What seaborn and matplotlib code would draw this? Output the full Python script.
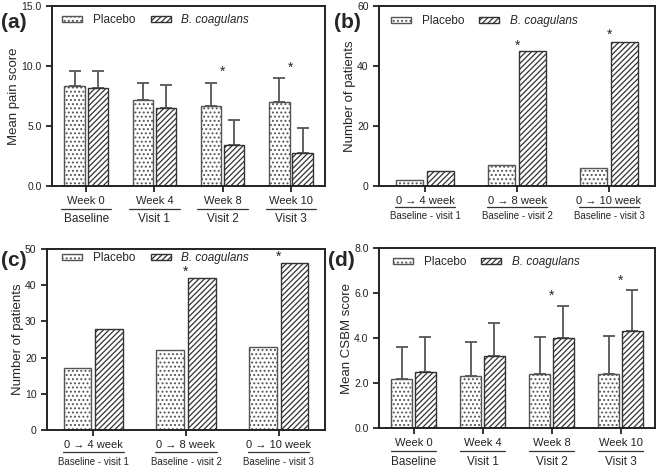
import seaborn as sns
import matplotlib.pyplot as plt
import matplotlib.transforms as mtransforms
from matplotlib.patches import Patch
import pandas as pd

# ---------------------------------------------------------------
# Data
# ---------------------------------------------------------------
treatments = ['Placebo', 'B. coagulans']

# (a) mean pain score, mean + SD
a_top = ['Week 0', 'Week 4', 'Week 8', 'Week 10']
a_bottom = ['Baseline', 'Visit 1', 'Visit 2', 'Visit 3']
a_placebo = [8.3, 7.2, 6.7, 7.0]
a_placebo_sd = [1.25, 1.35, 1.9, 2.0]
a_bc = [8.2, 6.5, 3.4, 2.75]
a_bc_sd = [1.4, 1.9, 2.1, 2.05]
a_star_group = [2, 3]
a_star_y = [9.7, 10.0]

# (b) number of patients
bc_top = ['0 \u2192 4 week', '0 \u2192 8 week', '0 \u2192 10 week']
bc_bottom = ['Baseline - visit 1', 'Baseline - visit 2', 'Baseline - visit 3']
b_placebo = [2, 7, 6]
b_bc = [5, 45, 48]
b_star_group = [1, 2]
b_star_y = [47.5, 51.0]

# (c) number of patients
c_placebo = [17, 22, 23]
c_bc = [28, 42, 46]
c_star_group = [1, 2]
c_star_y = [44.3, 48.5]

# (d) mean CSBM score, mean + SD
d_placebo = [2.2, 2.3, 2.4, 2.4]
d_placebo_sd = [1.4, 1.53, 1.66, 1.69]
d_bc = [2.5, 3.2, 4.0, 4.3]
d_bc_sd = [1.55, 1.45, 1.44, 1.85]
d_star_group = [2, 3]
d_star_y = [5.95, 6.65]

sns.set_style('ticks')
plt.rcParams['font.family'] = ['Liberation Sans', 'DejaVu Sans']
plt.rcParams['hatch.linewidth'] = 0.9

EDGE = '#333333'
ERR = '#555555'
HATCHES = ['....', '//////']
W, H = 658, 467


def draw_panel(ax, top_labels, bottom_labels, placebo, bc, placebo_sd=None, bc_sd=None,
               star_group=(), star_y=(), ymax=10, yticks=None, fmt='{:.0f}',
               ylabel='', letter='', letter_xy=(0, 0), legend_xy=(0.04, 0.92),
               line_half=0.35, line_y=-0.125, bottom_y=-0.18, bottom_size=8.5):
    df = pd.DataFrame({
        'group': top_labels * 2,
        'treatment': [treatments[0]] * len(placebo) + [treatments[1]] * len(bc),
        'value': list(placebo) + list(bc),
    })
    sns.barplot(data=df, x='group', y='value', hue='treatment', hue_order=treatments,
                palette=['white', 'white'], edgecolor=EDGE, linewidth=1.0,
                width=0.68, gap=0.12, errorbar=None, legend=False, ax=ax)

    sds = [placebo_sd, bc_sd]
    means = [placebo, bc]
    bar_conts = list(ax.containers)
    for i, cont in enumerate(bar_conts):
        for p in cont:
            p.set_hatch(HATCHES[i])
            p.set_edgecolor('#555555' if i == 0 else EDGE)
        if sds[i] is not None:
            xs = [p.get_x() + p.get_width() / 2 for p in cont]
            ax.errorbar(xs, means[i], yerr=[[0] * len(xs), sds[i]], fmt='none',
                        ecolor=ERR, elinewidth=1.3, capsize=4, capthick=1.3, zorder=0.5)

    for g, y in zip(star_group, star_y):
        ax.annotate('*', (g, y), xytext=(0, -1.5), textcoords='offset points',
                    ha='center', va='center', fontsize=10)

    ax.set_xlim(-0.5, len(top_labels) - 0.5)
    ax.set_ylim(0, ymax)
    ax.set_yticks(yticks)
    ax.set_yticklabels([fmt.format(t) for t in yticks])
    ax.set_xlabel('')
    ax.set_ylabel(ylabel, fontsize=9.5, labelpad=1)
    ax.tick_params(axis='both', labelsize=8, width=1.3, length=4, colors='#222222')
    ax.tick_params(axis='y', labelsize=7.5)
    for s in ax.spines.values():
        s.set_linewidth(1.4)
        s.set_color('#222222')

    # second row of category labels with a rule above it
    trans = mtransforms.blended_transform_factory(ax.transData, ax.transAxes)
    for i, lab in enumerate(bottom_labels):
        ax.plot([i - line_half, i + line_half], [line_y, line_y], color='#333333',
                lw=0.9, transform=trans, clip_on=False)
        ax.text(i, bottom_y, lab, transform=trans, ha='center', va='center',
                fontsize=bottom_size)

    handles = [Patch(facecolor='white', edgecolor='#555555', hatch=HATCHES[0], lw=1.0),
               Patch(facecolor='white', edgecolor=EDGE, hatch=HATCHES[1], lw=1.0)]
    leg = ax.legend(handles, treatments, loc='center left', bbox_to_anchor=legend_xy,
                    ncol=2, frameon=False, fontsize=8.5, handlelength=1.7,
                    handleheight=0.45, handletextpad=0.9, columnspacing=1.3,
                    borderaxespad=0, borderpad=0)
    leg.get_texts()[1].set_style('italic')

    fig.text(letter_xy[0] / W, 1 - letter_xy[1] / H, letter, fontsize=15,
             fontweight='bold', ha='left', va='center')


fig = plt.figure(figsize=(6.58, 4.67), dpi=100)
ax_a = fig.add_axes([0.079, 0.6017, 0.415, 0.3854])
ax_b = fig.add_axes([0.576, 0.6017, 0.4195, 0.3854])
ax_c = fig.add_axes([0.0714, 0.0792, 0.4225, 0.3876])
ax_d = fig.add_axes([0.576, 0.0835, 0.4195, 0.3854])

draw_panel(ax_a, a_top, a_bottom, a_placebo, a_bc, a_placebo_sd, a_bc_sd,
           a_star_group, a_star_y, ymax=15, yticks=[0, 5, 10, 15], fmt='{:.1f}',
           ylabel='Mean pain score', letter='(a)', letter_xy=(1, 22),
           legend_xy=(0.037, 0.922), line_half=0.37, line_y=-0.128, bottom_y=-0.186)
draw_panel(ax_b, bc_top, bc_bottom, b_placebo, b_bc, None, None,
           b_star_group, b_star_y, ymax=60, yticks=[0, 20, 40, 60],
           ylabel='Number of patients', letter='(b)', letter_xy=(334, 23),
           legend_xy=(0.043, 0.917), line_half=0.33, line_y=-0.114, bottom_y=-0.166,
           bottom_size=7)
draw_panel(ax_c, bc_top, bc_bottom, c_placebo, c_bc, None, None,
           c_star_group, c_star_y, ymax=50, yticks=[0, 10, 20, 30, 40, 50],
           ylabel='Number of patients', letter='(c)', letter_xy=(1, 260),
           legend_xy=(0.054, 0.95), line_half=0.33, line_y=-0.12, bottom_y=-0.175,
           bottom_size=7)
draw_panel(ax_d, a_top, a_bottom, d_placebo, d_bc, d_placebo_sd, d_bc_sd,
           d_star_group, d_star_y, ymax=8, yticks=[0, 2, 4, 6, 8], fmt='{:.1f}',
           ylabel='Mean CSBM score', letter='(d)', letter_xy=(328, 260),
           legend_xy=(0.05, 0.922), line_half=0.33, line_y=-0.128, bottom_y=-0.187)

fig.savefig('out.png', dpi=100)
